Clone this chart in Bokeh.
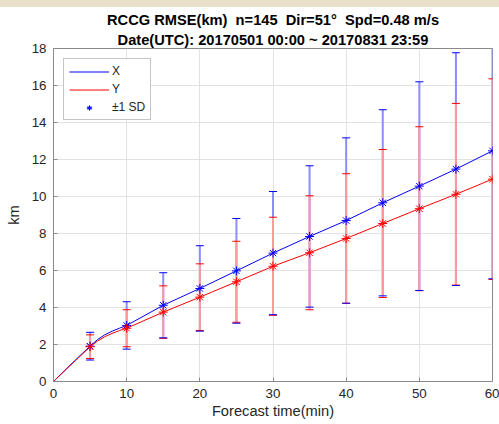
import numpy as np
from bokeh.plotting import figure
from bokeh.layouts import column
from bokeh.models import FixedTicker, Title, Legend, LegendItem, Div
from bokeh.embed import file_html
from bokeh.resources import INLINE

# ---- data ----
t_line = [0, 1, 2, 3, 4, 5, 6, 7, 8, 9, 10, 15, 20, 25, 30, 35, 40, 45, 50, 55, 60]
x_line = [0, 0.39, 0.78, 1.16, 1.54, 1.91, 2.26, 2.52, 2.72, 2.88, 3.03,
          4.12, 5.03, 5.98, 6.94, 7.84, 8.70, 9.66, 10.56, 11.48, 12.47]
y_line = [0, 0.38, 0.76, 1.13, 1.50, 1.88, 2.18, 2.42, 2.60, 2.75, 2.88,
          3.75, 4.56, 5.39, 6.23, 6.96, 7.73, 8.54, 9.34, 10.12, 10.94]

t_mark = [5, 10, 15, 20, 25, 30, 35, 40, 45, 50, 55, 60]
x_rmse = [1.91, 3.03, 4.12, 5.03, 5.98, 6.94, 7.84, 8.70, 9.66, 10.56, 11.48, 12.47]
y_rmse = [1.88, 2.88, 3.75, 4.56, 5.39, 6.23, 6.96, 7.73, 8.54, 9.34, 10.12, 10.94]
x_sd = [0.75, 1.28, 1.76, 2.31, 2.83, 3.33, 3.82, 4.47, 5.03, 5.64, 6.29, 6.92]
y_sd = [0.64, 1.00, 1.42, 1.80, 2.19, 2.65, 3.08, 3.50, 4.00, 4.43, 4.91, 5.42]

x_ticks = [0, 10, 20, 30, 40, 50, 60]
y_ticks = [0, 2, 4, 6, 8, 10, 12, 14, 16, 18]

title1 = "RCCG RMSE(km) \u00a0n=145 \u00a0Dir=51\u00b0 \u00a0Spd=0.48 m/s"
title2 = "Date(UTC): 20170501 00:00 ~ 20170831 23:59"

FONT = "Liberation Sans"
AX = "#8a8a8a"
TXT = "#262626"

p = figure(width=499, height=417, x_range=(0, 60), y_range=(0, 18),
           output_backend="svg", toolbar_location=None, title=None,
           min_border_left=53, min_border_right=7, min_border_top=41,
           min_border_bottom=43)
p.background_fill_color = "white"
p.border_fill_color = "white"
p.outline_line_color = AX
p.outline_line_width = 1

t2 = Title(text=title2, align="center", text_font=FONT, text_font_size="14.67px",
           text_font_style="bold", text_color="black", standoff=2)
t1 = Title(text=title1, align="center", text_font=FONT, text_font_size="14.67px",
           text_font_style="bold", text_color="black", standoff=2)
p.add_layout(t2, "above")
p.add_layout(t1, "above")

for ax in (p.xaxis[0], p.yaxis[0]):
    ax.axis_line_color = AX
    ax.major_tick_line_color = AX
    ax.minor_tick_line_color = None
    ax.major_tick_in = 4
    ax.major_tick_out = 0
    ax.major_label_text_font = FONT
    ax.major_label_text_font_size = "13.33px"
    ax.major_label_text_color = TXT
    ax.axis_label_text_font = FONT
    ax.axis_label_text_font_size = "14.67px"
    ax.axis_label_text_font_style = "normal"
    ax.axis_label_text_color = TXT

p.xaxis.ticker = FixedTicker(ticks=x_ticks)
p.yaxis.ticker = FixedTicker(ticks=y_ticks)
p.xaxis.axis_label = "Forecast time(min)"
p.yaxis.axis_label = "km"
p.xaxis.major_label_standoff = 7
p.xaxis.axis_label_standoff = 2
p.yaxis.major_label_standoff = 7
p.yaxis.axis_label_standoff = 7

p.xgrid.grid_line_color = "#e2e2e2"
p.ygrid.grid_line_color = "#e2e2e2"

# ---- error bars ----
tm = np.array(t_mark, dtype=float)
xr = np.array(x_rmse); xs = np.array(x_sd)
yr = np.array(y_rmse); ys = np.array(y_sd)

p.segment(x0=tm, y0=xr - xs, x1=tm, y1=xr + xs, line_color="#8c8cff", line_width=2)
p.segment(x0=tm, y0=yr - ys, x1=tm, y1=yr + ys, line_color="#ff9a9a", line_width=2)
p.scatter(x=tm, y=yr + ys, marker="dash", size=8, line_color="red", line_width=1)
p.scatter(x=tm, y=yr - ys, marker="dash", size=8, line_color="red", line_width=1)
p.scatter(x=tm, y=xr + xs, marker="dash", size=8, line_color="blue", line_width=1)
p.scatter(x=tm, y=xr - xs, marker="dash", size=8, line_color="blue", line_width=1)

# ---- lines ----
rx = p.line(t_line, x_line, line_color="blue", line_width=1)
ry = p.line(t_line, y_line, line_color="red", line_width=1)
p.scatter(x=tm, y=xr, marker="asterisk", size=9, line_color="blue", line_width=1)
p.scatter(x=tm, y=yr, marker="asterisk", size=9, line_color="red", line_width=1)

# legend-only renderers for the ±1 SD entry (no visible data)
lbar = p.scatter(x=[np.nan], y=[np.nan], marker="dash", angle=np.pi / 2, size=15,
                 line_color="#8c8cff", line_width=2)
lstar = p.scatter(x=[np.nan], y=[np.nan], marker="asterisk", size=9,
                  line_color="blue", line_width=1)

legend = Legend(items=[LegendItem(label="X", renderers=[rx]),
                       LegendItem(label="Y", renderers=[ry]),
                       LegendItem(label="\u00b11 SD", renderers=[lbar, lstar])],
                location="top_left")
legend.label_text_font = FONT
legend.label_text_font_size = "12px"
legend.label_text_color = TXT
legend.glyph_width = 40
legend.glyph_height = 13
legend.label_height = 13
legend.spacing = 4
legend.padding = 5
legend.margin = 10
legend.label_standoff = 3
legend.border_line_color = "#8c8c8c"
legend.background_fill_alpha = 1
p.add_layout(legend)

band = Div(text="", width=499, height=7, margin=0,
           styles={"background-color": "#e9e0c9"})
layout = column(band, p, spacing=0, margin=0)

open("out.html", "w").write(file_html(layout, INLINE))
